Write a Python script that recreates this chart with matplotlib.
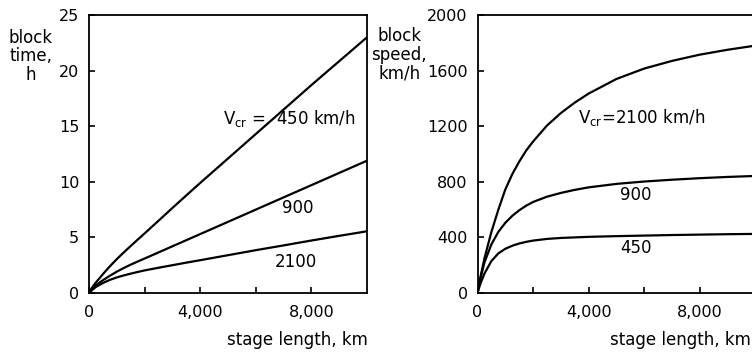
import matplotlib.pyplot as plt
from matplotlib.ticker import FixedLocator

# stage length, km
stage = [0, 100, 250, 500, 750, 1000, 1250, 1500, 1750, 2000, 2500, 3000, 3500,
         4000, 5000, 6000, 7000, 8000, 9000, 10000]

# block time, h (left panel)
time_450 = [0, 0.45, 0.95, 1.7, 2.4, 3.05, 3.65, 4.23, 4.8, 5.36, 6.5, 7.65, 8.78,
            9.9, 12.1, 14.3, 16.5, 18.7, 20.85, 23.0]
time_900 = [0, 0.35, 0.7, 1.15, 1.55, 1.92, 2.25, 2.55, 2.83, 3.1, 3.65, 4.2, 4.75,
            5.3, 6.4, 7.5, 8.6, 9.7, 10.8, 11.9]
time_2100 = [0, 0.25, 0.55, 0.9, 1.18, 1.4, 1.58, 1.74, 1.89, 2.03, 2.27, 2.5, 2.73,
             2.95, 3.4, 3.85, 4.28, 4.72, 5.14, 5.55]

# block speed, km/h (right panel)
speed_2100 = [0, 110, 250, 440, 600, 745, 855, 945, 1025, 1090, 1205, 1295, 1370,
              1435, 1540, 1615, 1670, 1715, 1750, 1780]
speed_900 = [0, 100, 220, 350, 440, 505, 555, 595, 628, 655, 693, 720, 742,
             760, 785, 802, 815, 826, 835, 842]
speed_450 = [0, 65, 140, 230, 285, 318, 340, 356, 368, 377, 389, 396, 400,
             404, 409, 413, 417, 420, 423, 425]

lw = 1.6
fs = 12
tfs = 11.5

fig = plt.figure(figsize=(7.52, 3.53), dpi=100)
ax1 = fig.add_axes([0.1184, 0.170, 0.3697, 0.7875])
ax2 = fig.add_axes([0.635, 0.170, 0.3697, 0.7875])

for ax in (ax1, ax2):
    ax.set_xlim(0, 10000)
    ax.xaxis.set_major_locator(FixedLocator([0, 4000, 8000]))
    ax.xaxis.set_minor_locator(FixedLocator([2000, 6000]))
    ax.set_xticklabels(["0", "4,000", "8,000"])
    ax.tick_params(which="both", direction="in", length=4, width=1.2,
                   labelsize=tfs)
    ax.tick_params(axis="x", pad=9)
    ax.tick_params(axis="y", pad=7)
    for s in ax.spines.values():
        s.set_linewidth(1.3)

# left: block time
ax1.plot(stage, time_450, color="black", lw=lw)
ax1.plot(stage, time_900, color="black", lw=lw)
ax1.plot(stage, time_2100, color="black", lw=lw)
ax1.set_ylim(0, 25)
ax1.set_yticks([0, 5, 10, 15, 20, 25])
ax1.text(4820, 15.7, r"V$_{\rm cr}$ =  450 km/h", fontsize=fs, va="center", ha="left")
ax1.text(7520, 7.6, "900", fontsize=fs, va="center", ha="center")
ax1.text(7450, 2.8, "2100", fontsize=fs, va="center", ha="center")
fig.text(0.041, 0.84, "block\ntime,\nh", fontsize=fs, ha="center", va="center",
         linespacing=1.05)
fig.text(0.489, 0.037, "stage length, km", fontsize=fs, ha="right", va="center")

# right: block speed
ax2.plot(stage, speed_2100, color="black", lw=lw)
ax2.plot(stage, speed_900, color="black", lw=lw)
ax2.plot(stage, speed_450, color="black", lw=lw)
ax2.set_ylim(0, 2000)
ax2.set_yticks([0, 400, 800, 1200, 1600, 2000])
ax2.text(3615, 1259, r"V$_{\rm cr}$=2100 km/h", fontsize=fs, va="center", ha="left")
ax2.text(5700, 702, "900", fontsize=fs, va="center", ha="center")
ax2.text(5700, 324, "450", fontsize=fs, va="center", ha="center")
fig.text(0.531, 0.845, "block\nspeed,\nkm/h", fontsize=fs, ha="center", va="center",
         linespacing=1.05)
fig.text(0.999, 0.037, "stage length, km", fontsize=fs, ha="right", va="center")

fig.savefig("out.png", dpi=100)
